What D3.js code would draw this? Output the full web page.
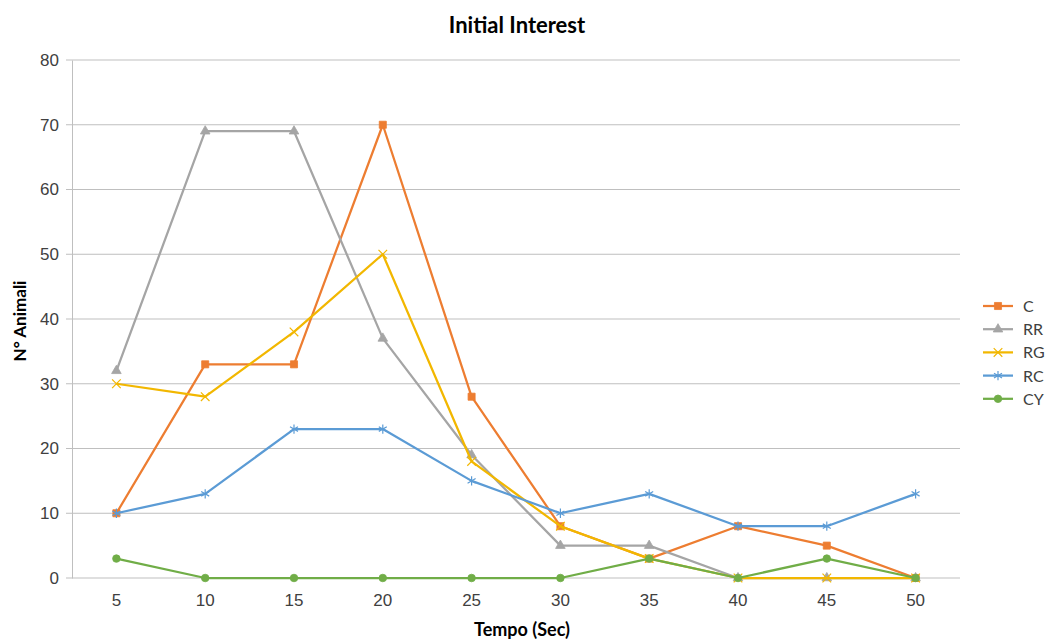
<!DOCTYPE html>
<html>
<head>
<meta charset="utf-8">
<script src="https://cdn.jsdelivr.net/npm/d3@7"></script>
<style>
  body { margin: 0; background: #fff; }
  svg { font-family: Lato, "Open Sans", sans-serif; }
</style>
</head>
<body>
<div id="chart"></div>
<script>
const tempo = [5, 10, 15, 20, 25, 30, 35, 40, 45, 50];
const seriesNames = ["C", "RR", "RG", "RC", "CY"];
const valuesC  = [10, 33, 33, 70, 28, 8, 3, 8, 5, 0];
const valuesRR = [32, 69, 69, 37, 19, 5, 5, 0, 0, 0];
const valuesRG = [30, 28, 38, 50, 18, 8, 3, 0, 0, 0];
const valuesRC = [10, 13, 23, 23, 15, 10, 13, 8, 8, 13];
const valuesCY = [3, 0, 0, 0, 0, 0, 3, 0, 3, 0];
const yTicks = [0, 10, 20, 30, 40, 50, 60, 70, 80];

const colors = ["#ED7D31", "#A5A5A5", "#F2B700", "#5B9BD5", "#70AD47"];
const markers = ["square", "triangle", "x", "star", "circle"];
const allValues = [valuesC, valuesRR, valuesRG, valuesRC, valuesCY];

const width = 1047, height = 640;
const margin = { top: 60, right: 87, bottom: 62, left: 72 };

const svg = d3.select("#chart").append("svg")
  .attr("width", width)
  .attr("height", height);

const x = d3.scaleBand()
  .domain(tempo)
  .range([margin.left, width - margin.right]);

const y = d3.scaleLinear()
  .domain([0, 80])
  .range([height - margin.bottom, margin.top]);

// gridlines
svg.append("g")
  .selectAll("line")
  .data(yTicks)
  .join("line")
  .attr("x1", margin.left - 6)
  .attr("x2", width - margin.right)
  .attr("y1", d => y(d))
  .attr("y2", d => y(d))
  .attr("stroke", "#BFBFBF")
  .attr("stroke-width", 1);

// y axis
const yAxis = svg.append("g")
  .attr("transform", `translate(${margin.left},0)`)
  .call(d3.axisLeft(y).tickValues(yTicks).tickSize(0).tickPadding(13));
yAxis.select(".domain").attr("stroke", "#BFBFBF");
yAxis.selectAll("text").attr("font-size", 17).attr("fill", "#404040");

// x axis
const xAxis = svg.append("g")
  .attr("transform", `translate(0,${height - margin.bottom})`)
  .call(d3.axisBottom(x).tickSize(0).tickPadding(16));
xAxis.select(".domain").remove();
xAxis.selectAll("text").attr("font-size", 17).attr("fill", "#404040");

// lines
const line = d3.line()
  .x((d, i) => x(tempo[i]) + x.bandwidth() / 2)
  .y(d => y(d));

const symbolFor = {
  square: d3.symbol().type(d3.symbolSquare).size(50),
  triangle: d3.symbol().type(d3.symbolTriangle).size(40),
  circle: d3.symbol().type(d3.symbolCircle).size(45),
  x: d3.symbol().type(d3.symbolX).size(50),
  star: d3.symbol().type(d3.symbolAsterisk).size(60)
};

function drawMarker(g, kind, color) {
  const p = g.append("path").attr("d", symbolFor[kind]());
  if (kind === "x" || kind === "star") {
    p.attr("fill", "none").attr("stroke", color).attr("stroke-width", 1.2);
  } else {
    p.attr("fill", color).attr("stroke", color).attr("stroke-width", 0.8);
  }
}

allValues.forEach((vals, s) => {
  const g = svg.append("g");
  g.append("path")
    .datum(vals)
    .attr("fill", "none")
    .attr("stroke", colors[s])
    .attr("stroke-width", 2.25)
    .attr("stroke-linejoin", "round")
    .attr("d", line);
  g.selectAll("g.m")
    .data(vals)
    .join("g")
    .attr("class", "m")
    .attr("transform", (d, i) => `translate(${x(tempo[i]) + x.bandwidth() / 2},${y(d)})`)
    .each(function() { drawMarker(d3.select(this), markers[s], colors[s]); });
});

// title
svg.append("text")
  .attr("x", 517)
  .attr("y", 33)
  .attr("text-anchor", "middle")
  .attr("font-size", 22)
  .attr("font-weight", "bold")
  .attr("fill", "#000")
  .text("Initial Interest");

// axis titles
svg.append("text")
  .attr("x", 522)
  .attr("y", 636)
  .attr("text-anchor", "middle")
  .attr("font-size", 18)
  .attr("font-weight", "bold")
  .text("Tempo (Sec)");

svg.append("text")
  .attr("transform", `translate(26,${y(40) + 2}) rotate(-90)`)
  .attr("text-anchor", "middle")
  .attr("font-size", 17)
  .attr("font-weight", "bold")
  .text("N° Animali");

// legend
const legend = svg.append("g").attr("transform", "translate(983,306)");
seriesNames.forEach((name, i) => {
  const item = legend.append("g").attr("transform", `translate(0,${i * 23.2})`);
  item.append("line")
    .attr("x1", 0).attr("x2", 30)
    .attr("stroke", colors[i]).attr("stroke-width", 2.25);
  const m = item.append("g").attr("transform", "translate(15,0)");
  drawMarker(m, markers[i], colors[i]);
  item.append("text")
    .attr("x", 40)
    .attr("y", 6)
    .attr("font-size", 16)
    .attr("fill", "#404040")
    .text(name);
});
</script>
</body>
</html>
